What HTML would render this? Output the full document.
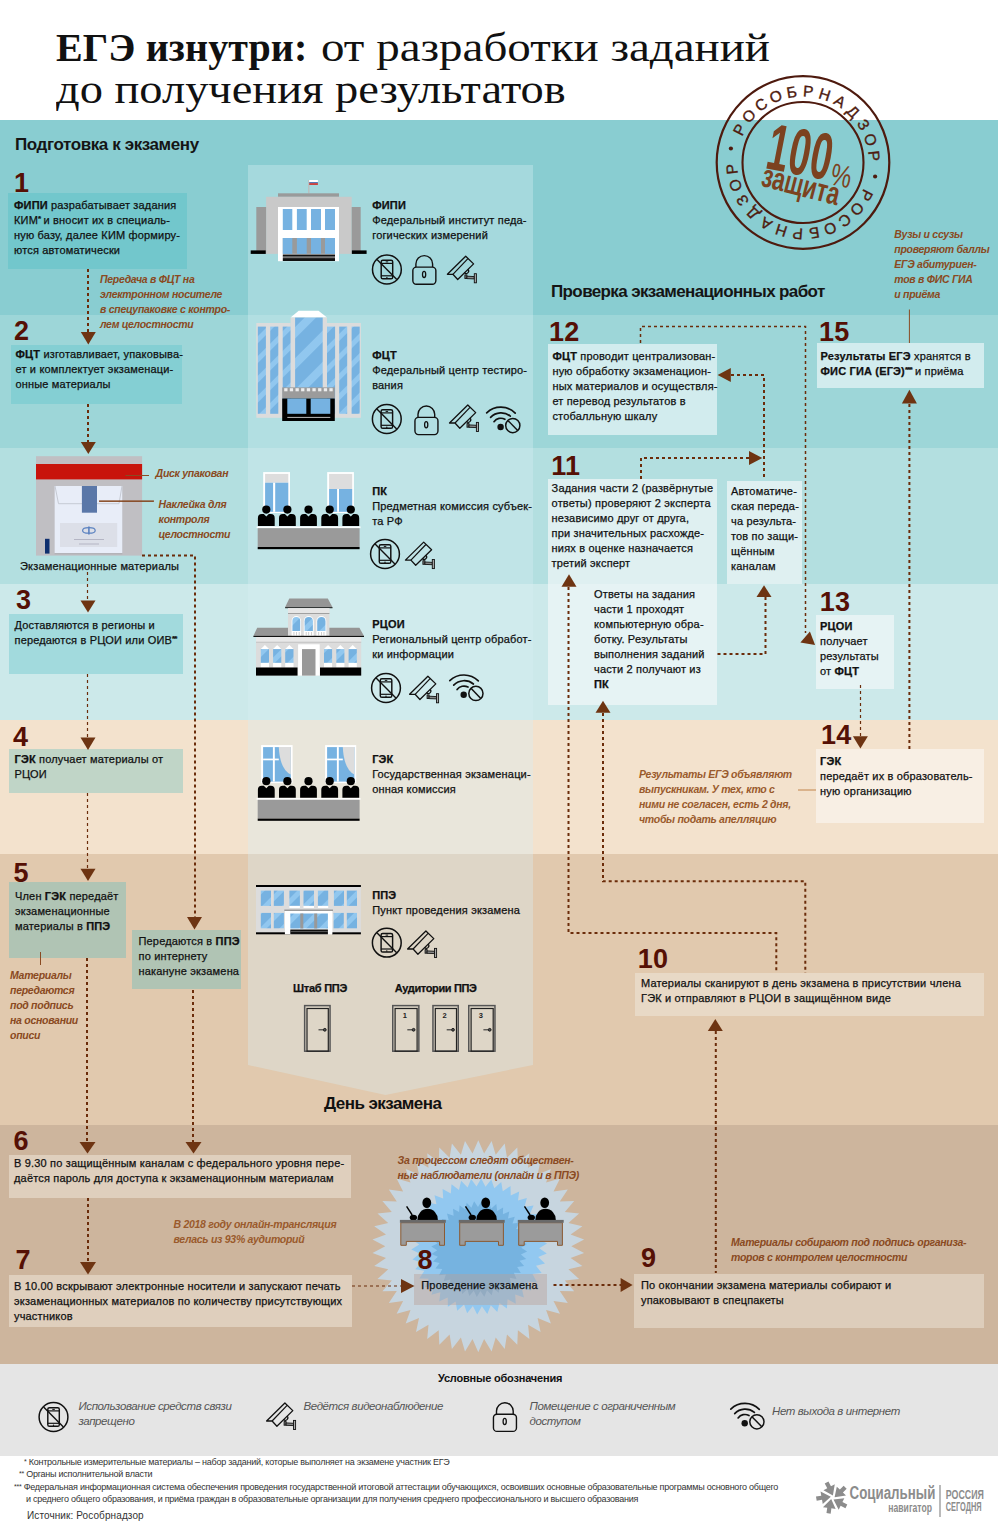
<!DOCTYPE html>
<html><head><meta charset="utf-8">
<style>
*{margin:0;padding:0;box-sizing:border-box}
html,body{width:998px;height:1526px;overflow:hidden;background:#fff}
body{position:relative;font-family:"Liberation Sans",sans-serif;color:#151515}
.a{position:absolute}
.bd{position:absolute;left:0;width:998px}
.t{position:absolute;font-size:11px;line-height:15px;letter-spacing:0.17px;white-space:nowrap;color:#111;-webkit-text-stroke:0.25px #111;margin-top:0.8px}
.t b{font-weight:bold}
.n{position:absolute;font-weight:bold;font-size:27px;line-height:27px;color:#551005;white-space:nowrap;letter-spacing:0.3px;margin-left:-1px;margin-top:-0.5px}
.nt{position:absolute;font-size:10.5px;line-height:15px;font-style:italic;font-weight:bold;letter-spacing:-0.28px;white-space:nowrap;color:#8a4a22}
.nt2{color:#9a5a2c}
.h{position:absolute;font-weight:bold;font-size:17px;line-height:17px;letter-spacing:-0.4px;white-space:nowrap;color:#151515}
.bx{position:absolute}
svg{position:absolute;overflow:visible}
sup{font-size:8px;font-weight:bold;line-height:0;vertical-align:0;position:relative;top:-3.2px;letter-spacing:-0.8px}
</style></head>
<body>
<!-- bands -->
<div class="bd" style="top:120px;height:195px;background:#89cdd1"></div>
<div class="bd" style="top:315px;height:133px;background:#9dd6d8"></div>
<div class="bd" style="top:448px;height:136px;background:#b3dfe0"></div>
<div class="bd" style="top:584px;height:136px;background:#cce9ea"></div>
<div class="bd" style="top:720px;height:134px;background:#f3e2cd"></div>
<div class="bd" style="top:854px;height:271px;background:#e1c9ae"></div>
<div class="bd" style="top:1125px;height:239px;background:#cdb59d"></div>
<div class="bd" style="top:1364px;height:92px;background:#e5e5e5"></div>

<!-- center panel -->
<svg style="left:0;top:0" width="998" height="1526"><polygon points="248,165 533,165 533,1065 385.5,1095 248,1065" fill="rgba(215,238,245,0.36)"/></svg>

<!-- title -->
<div class="a" style="left:56px;top:26.5px;font-family:'Liberation Serif',serif;font-size:40px;line-height:42px;white-space:nowrap;color:#111;font-weight:bold;letter-spacing:0.1px">ЕГЭ изнутри:</div>
<div class="a" style="left:321px;top:26.5px;font-family:'Liberation Serif',serif;font-size:40.5px;line-height:42px;white-space:nowrap;color:#111;transform:scaleX(1.16);transform-origin:0 0">от разработки заданий</div>
<div class="a" style="left:56px;top:68.5px;font-family:'Liberation Serif',serif;font-size:40.5px;line-height:42px;white-space:nowrap;color:#111;transform:scaleX(1.147);transform-origin:0 0">до получения результатов</div>

<div class="h" style="left:15px;top:136px">Подготовка к экзамену</div>
<div class="h" style="left:551px;top:283px;letter-spacing:-0.62px">Проверка экзаменационных работ</div>


<div class="bx" style="left:8px;top:193px;width:179px;height:76px;background:#72c7cc"></div>
<div class="bx" style="left:10.5px;top:345px;width:171.5px;height:59px;background:#84cfd3"></div>
<div class="bx" style="left:9px;top:614px;width:174px;height:60px;background:#a2dadd"></div>
<div class="bx" style="left:9px;top:749px;width:174px;height:44px;background:#c0d5c7"></div>
<div class="bx" style="left:9px;top:882px;width:117px;height:76px;background:#b0c4b4"></div>
<div class="bx" style="left:132px;top:930px;width:109px;height:59px;background:#b0c4b4"></div>
<div class="bx" style="left:9px;top:1155px;width:342px;height:43px;background:#dfcfbd"></div>
<div class="bx" style="left:9px;top:1275px;width:343px;height:52px;background:#dfcfbd"></div>
<div class="bx" style="left:548px;top:344px;width:169px;height:91px;background:#d2ecee"></div>
<div class="bx" style="left:817px;top:343px;width:167px;height:45px;background:#d2ecee"></div>
<div class="bx" style="left:548px;top:479px;width:169px;height:105px;background:#dff0f1"></div>
<div class="bx" style="left:727px;top:481px;width:75px;height:103px;background:#dff0f1"></div>
<div class="bx" style="left:548px;top:584px;width:169px;height:121px;background:#e6f3f4"></div>
<div class="bx" style="left:816px;top:615px;width:78px;height:74px;background:#e6f3f4"></div>
<div class="bx" style="left:816px;top:749px;width:168px;height:74px;background:#f8efe4"></div>
<div class="bx" style="left:635px;top:973px;width:349px;height:43px;background:#e8d9c6"></div>
<div class="bx" style="left:634px;top:1274px;width:350px;height:54px;background:#ddcdbb"></div>
<svg style="left:0;top:0" width="998" height="1526"><rect x="36.0" y="456.2" width="106.1" height="99.4" fill="#c0bfc3"/>
<rect x="36.0" y="464.0" width="106.1" height="15.4" fill="#c8140c"/>
<rect x="54.6" y="487.0" width="67.7" height="67.5" fill="#b3b3b8"/>
<rect x="54.6" y="486.0" width="67.7" height="67.0" fill="#e8edf8"/>
<path d="M55,486 L58.5,503.7 L119,503.7 L122,486" fill="none" stroke="#c6cad4" stroke-width="1"/>
<rect x="81.9" y="486.0" width="15.1" height="26.7" fill="#5a77a8"/>
<rect x="60.0" y="523.0" width="57.2" height="24.0" fill="#dcdfe8"/>
<ellipse cx="88.9" cy="530.4" rx="6.3" ry="2.8" fill="none" stroke="#5b82c0" stroke-width="1.2"/><line x1="88.9" y1="526.5" x2="88.9" y2="534.5" stroke="#5b82c0" stroke-width="1.6"/>
<rect x="74.0" y="539.2" width="30.0" height="0.8" fill="#aab"/>
<rect x="79.0" y="543.6" width="20.0" height="0.8" fill="#aab"/>
<rect x="45.0" y="538.8" width="4.5" height="14.8" fill="#0f2f6e"/>
<line x1="125.6" y1="475.5" x2="149" y2="475.5" stroke="#7a3d16" stroke-width="1"/>
<line x1="99.1" y1="501.3" x2="153.8" y2="501.3" stroke="#7a3d16" stroke-width="1"/>
<polygon points="478.3,1140.2 484.1,1153.4 491.6,1141.0 495.7,1154.8 504.7,1143.5 507.0,1157.8 517.3,1147.6 517.9,1162.1 529.4,1153.3 528.1,1167.7 540.6,1160.4 537.6,1174.5 550.9,1168.9 546.1,1182.5 560.0,1178.6 553.5,1191.5 567.8,1189.4 559.8,1201.4 574.2,1201.1 564.8,1212.0 579.1,1213.4 568.4,1223.1 582.4,1226.3 570.6,1234.5 584.1,1239.5 571.3,1246.2 584.1,1252.9 570.6,1257.9 582.4,1266.1 568.4,1269.3 579.1,1279.0 564.8,1280.4 574.2,1291.3 559.8,1291.0 567.8,1303.0 553.5,1300.9 560.0,1313.8 546.1,1309.9 550.9,1323.5 537.6,1317.9 540.6,1332.0 528.1,1324.7 529.4,1339.1 517.9,1330.3 517.3,1344.8 507.0,1334.6 504.7,1348.9 495.7,1337.6 491.6,1351.4 484.1,1339.0 478.3,1352.2 472.5,1339.0 465.0,1351.4 460.9,1337.6 451.9,1348.9 449.6,1334.6 439.3,1344.8 438.7,1330.3 427.2,1339.1 428.5,1324.7 416.0,1332.0 419.0,1317.9 405.7,1323.5 410.5,1309.9 396.6,1313.8 403.1,1300.9 388.8,1303.0 396.8,1291.0 382.4,1291.3 391.8,1280.4 377.5,1279.0 388.2,1269.3 374.2,1266.1 386.0,1257.9 372.5,1252.9 385.3,1246.2 372.5,1239.5 386.0,1234.5 374.2,1226.3 388.2,1223.1 377.5,1213.4 391.8,1212.0 382.4,1201.1 396.8,1201.4 388.8,1189.4 403.1,1191.5 396.6,1178.6 410.5,1182.5 405.7,1168.9 419.0,1174.5 416.0,1160.4 428.5,1167.7 427.2,1153.3 438.7,1162.1 439.3,1147.6 449.6,1157.8 451.9,1143.5 460.9,1154.8 465.0,1141.0 472.5,1153.4" fill="#c7d5df"/>
<polygon points="481.2,1178.4 485.5,1186.7 491.3,1179.5 494.3,1188.3 501.2,1182.1 502.8,1191.2 510.5,1186.0 510.7,1195.4 519.2,1191.4 518.0,1200.6 526.9,1198.0 524.4,1206.9 533.6,1205.6 529.8,1214.1 539.1,1214.2 534.0,1222.0 543.2,1223.5 537.0,1230.4 545.9,1233.3 538.8,1239.2 547.1,1243.4 539.2,1248.2 546.8,1253.5 538.2,1257.1 545.0,1263.5 536.0,1265.8 541.7,1273.1 532.5,1274.0 537.0,1282.2 527.7,1281.7 531.1,1290.4 521.9,1288.5 523.9,1297.6 515.2,1294.4 515.8,1303.7 507.6,1299.2 506.9,1308.5 499.4,1302.9 497.3,1312.0 490.8,1305.3 487.3,1313.9 481.9,1306.3 477.2,1314.4 472.9,1306.1 467.1,1313.3 464.1,1304.5 457.2,1310.7 455.6,1301.6 447.9,1306.8 447.7,1297.4 439.2,1301.4 440.4,1292.2 431.5,1294.8 434.0,1285.9 424.8,1287.2 428.6,1278.7 419.3,1278.6 424.4,1270.8 415.2,1269.3 421.4,1262.4 412.5,1259.5 419.6,1253.6 411.3,1249.4 419.2,1244.6 411.6,1239.3 420.2,1235.7 413.4,1229.3 422.4,1227.0 416.7,1219.7 425.9,1218.8 421.4,1210.6 430.7,1211.1 427.3,1202.4 436.5,1204.3 434.5,1195.2 443.2,1198.4 442.6,1189.1 450.8,1193.6 451.5,1184.3 459.0,1189.9 461.1,1180.8 467.6,1187.5 471.1,1178.9 476.5,1186.5" fill="#92c8f0"/>
<polygon points="481.6,1201.1 484.6,1207.3 489.1,1202.0 491.0,1208.7 496.3,1204.1 497.2,1211.0 503.1,1207.4 502.9,1214.3 509.3,1211.6 508.0,1218.5 514.8,1216.8 512.5,1223.4 519.4,1222.8 516.1,1228.9 523.0,1229.4 518.8,1234.9 525.5,1236.5 520.5,1241.2 526.9,1243.9 521.2,1247.8 527.1,1251.4 520.9,1254.4 526.2,1258.9 519.5,1260.8 524.1,1266.1 517.2,1267.0 520.8,1272.9 513.9,1272.7 516.6,1279.1 509.7,1277.8 511.4,1284.6 504.8,1282.3 505.4,1289.2 499.3,1285.9 498.8,1292.8 493.3,1288.6 491.7,1295.3 487.0,1290.3 484.3,1296.7 480.4,1291.0 476.8,1296.9 473.8,1290.7 469.3,1296.0 467.4,1289.3 462.1,1293.9 461.2,1287.0 455.3,1290.6 455.5,1283.7 449.1,1286.4 450.4,1279.5 443.6,1281.2 445.9,1274.6 439.0,1275.2 442.3,1269.1 435.4,1268.6 439.6,1263.1 432.9,1261.5 437.9,1256.8 431.5,1254.1 437.2,1250.2 431.3,1246.6 437.5,1243.6 432.2,1239.1 438.9,1237.2 434.3,1231.9 441.2,1231.0 437.6,1225.1 444.5,1225.3 441.8,1218.9 448.7,1220.2 447.0,1213.4 453.6,1215.7 453.0,1208.8 459.1,1212.1 459.6,1205.2 465.1,1209.4 466.7,1202.7 471.4,1207.7 474.1,1201.3 478.0,1207.0" fill="#76b3e0"/>
<g transform="translate(0,0)"><line x1="406.6" y1="1206.3" x2="412.2" y2="1215" stroke="#000" stroke-width="1.4"/><ellipse cx="413.4" cy="1217.6" rx="3.7" ry="2.9" fill="#000"/><path d="M417.4,1220 A10.25,11.2 0 0 1 437.9,1220 Z" fill="#000"/><ellipse cx="426.8" cy="1202.8" rx="4.4" ry="5.3" fill="#000"/><path d="M400.8,1222.7 H444.5 V1245.3 H439.6 V1241.4 H406.3 V1245.3 H400.8 Z" fill="#9b9b9b" stroke="#8b5a33" stroke-width="1"/><rect x="399.9" y="1219.9" width="45.9" height="2.9" fill="#6a6a6a"/></g>
<g transform="translate(58.9,0)"><line x1="406.6" y1="1206.3" x2="412.2" y2="1215" stroke="#000" stroke-width="1.4"/><ellipse cx="413.4" cy="1217.6" rx="3.7" ry="2.9" fill="#000"/><path d="M417.4,1220 A10.25,11.2 0 0 1 437.9,1220 Z" fill="#000"/><ellipse cx="426.8" cy="1202.8" rx="4.4" ry="5.3" fill="#000"/><path d="M400.8,1222.7 H444.5 V1245.3 H439.6 V1241.4 H406.3 V1245.3 H400.8 Z" fill="#9b9b9b" stroke="#8b5a33" stroke-width="1"/><rect x="399.9" y="1219.9" width="45.9" height="2.9" fill="#6a6a6a"/></g>
<g transform="translate(117.9,0)"><line x1="406.6" y1="1206.3" x2="412.2" y2="1215" stroke="#000" stroke-width="1.4"/><ellipse cx="413.4" cy="1217.6" rx="3.7" ry="2.9" fill="#000"/><path d="M417.4,1220 A10.25,11.2 0 0 1 437.9,1220 Z" fill="#000"/><ellipse cx="426.8" cy="1202.8" rx="4.4" ry="5.3" fill="#000"/><path d="M400.8,1222.7 H444.5 V1245.3 H439.6 V1241.4 H406.3 V1245.3 H400.8 Z" fill="#9b9b9b" stroke="#8b5a33" stroke-width="1"/><rect x="399.9" y="1219.9" width="45.9" height="2.9" fill="#6a6a6a"/></g>
<circle cx="803" cy="162.5" r="86.3" fill="none" stroke="#4e1a0e" stroke-width="2.2"/>
<circle cx="803" cy="162.5" r="60.5" fill="none" stroke="#4e1a0e" stroke-width="2.1"/>
<text transform="translate(803,162.5) rotate(-62.70) translate(0,-66)" text-anchor="middle" font-family="Liberation Sans" font-size="15.5" fill="#4e1a0e" stroke="#4e1a0e" stroke-width="0.35">Р</text>
<text transform="translate(803,162.5) rotate(-49.30) translate(0,-66)" text-anchor="middle" font-family="Liberation Sans" font-size="15.5" fill="#4e1a0e" stroke="#4e1a0e" stroke-width="0.35">О</text>
<text transform="translate(803,162.5) rotate(-35.90) translate(0,-66)" text-anchor="middle" font-family="Liberation Sans" font-size="15.5" fill="#4e1a0e" stroke="#4e1a0e" stroke-width="0.35">С</text>
<text transform="translate(803,162.5) rotate(-22.50) translate(0,-66)" text-anchor="middle" font-family="Liberation Sans" font-size="15.5" fill="#4e1a0e" stroke="#4e1a0e" stroke-width="0.35">О</text>
<text transform="translate(803,162.5) rotate(-9.10) translate(0,-66)" text-anchor="middle" font-family="Liberation Sans" font-size="15.5" fill="#4e1a0e" stroke="#4e1a0e" stroke-width="0.35">Б</text>
<text transform="translate(803,162.5) rotate(4.30) translate(0,-66)" text-anchor="middle" font-family="Liberation Sans" font-size="15.5" fill="#4e1a0e" stroke="#4e1a0e" stroke-width="0.35">Р</text>
<text transform="translate(803,162.5) rotate(17.70) translate(0,-66)" text-anchor="middle" font-family="Liberation Sans" font-size="15.5" fill="#4e1a0e" stroke="#4e1a0e" stroke-width="0.35">Н</text>
<text transform="translate(803,162.5) rotate(31.10) translate(0,-66)" text-anchor="middle" font-family="Liberation Sans" font-size="15.5" fill="#4e1a0e" stroke="#4e1a0e" stroke-width="0.35">А</text>
<text transform="translate(803,162.5) rotate(44.50) translate(0,-66)" text-anchor="middle" font-family="Liberation Sans" font-size="15.5" fill="#4e1a0e" stroke="#4e1a0e" stroke-width="0.35">Д</text>
<text transform="translate(803,162.5) rotate(57.90) translate(0,-66)" text-anchor="middle" font-family="Liberation Sans" font-size="15.5" fill="#4e1a0e" stroke="#4e1a0e" stroke-width="0.35">З</text>
<text transform="translate(803,162.5) rotate(71.30) translate(0,-66)" text-anchor="middle" font-family="Liberation Sans" font-size="15.5" fill="#4e1a0e" stroke="#4e1a0e" stroke-width="0.35">О</text>
<text transform="translate(803,162.5) rotate(84.70) translate(0,-66)" text-anchor="middle" font-family="Liberation Sans" font-size="15.5" fill="#4e1a0e" stroke="#4e1a0e" stroke-width="0.35">Р</text>
<text transform="translate(803,162.5) rotate(117.30) translate(0,-66)" text-anchor="middle" font-family="Liberation Sans" font-size="15.5" fill="#4e1a0e" stroke="#4e1a0e" stroke-width="0.35">Р</text>
<text transform="translate(803,162.5) rotate(130.70) translate(0,-66)" text-anchor="middle" font-family="Liberation Sans" font-size="15.5" fill="#4e1a0e" stroke="#4e1a0e" stroke-width="0.35">О</text>
<text transform="translate(803,162.5) rotate(144.10) translate(0,-66)" text-anchor="middle" font-family="Liberation Sans" font-size="15.5" fill="#4e1a0e" stroke="#4e1a0e" stroke-width="0.35">С</text>
<text transform="translate(803,162.5) rotate(157.50) translate(0,-66)" text-anchor="middle" font-family="Liberation Sans" font-size="15.5" fill="#4e1a0e" stroke="#4e1a0e" stroke-width="0.35">О</text>
<text transform="translate(803,162.5) rotate(170.90) translate(0,-66)" text-anchor="middle" font-family="Liberation Sans" font-size="15.5" fill="#4e1a0e" stroke="#4e1a0e" stroke-width="0.35">Б</text>
<text transform="translate(803,162.5) rotate(184.30) translate(0,-66)" text-anchor="middle" font-family="Liberation Sans" font-size="15.5" fill="#4e1a0e" stroke="#4e1a0e" stroke-width="0.35">Р</text>
<text transform="translate(803,162.5) rotate(197.70) translate(0,-66)" text-anchor="middle" font-family="Liberation Sans" font-size="15.5" fill="#4e1a0e" stroke="#4e1a0e" stroke-width="0.35">Н</text>
<text transform="translate(803,162.5) rotate(211.10) translate(0,-66)" text-anchor="middle" font-family="Liberation Sans" font-size="15.5" fill="#4e1a0e" stroke="#4e1a0e" stroke-width="0.35">А</text>
<text transform="translate(803,162.5) rotate(224.50) translate(0,-66)" text-anchor="middle" font-family="Liberation Sans" font-size="15.5" fill="#4e1a0e" stroke="#4e1a0e" stroke-width="0.35">Д</text>
<text transform="translate(803,162.5) rotate(237.90) translate(0,-66)" text-anchor="middle" font-family="Liberation Sans" font-size="15.5" fill="#4e1a0e" stroke="#4e1a0e" stroke-width="0.35">З</text>
<text transform="translate(803,162.5) rotate(251.30) translate(0,-66)" text-anchor="middle" font-family="Liberation Sans" font-size="15.5" fill="#4e1a0e" stroke="#4e1a0e" stroke-width="0.35">О</text>
<text transform="translate(803,162.5) rotate(264.70) translate(0,-66)" text-anchor="middle" font-family="Liberation Sans" font-size="15.5" fill="#4e1a0e" stroke="#4e1a0e" stroke-width="0.35">Р</text>
<circle cx="875.1" cy="176.5" r="2.1" fill="#4e1a0e"/>
<circle cx="730.9" cy="148.5" r="2.1" fill="#4e1a0e"/>
<text transform="translate(764,168) rotate(11) scale(0.58,1)" font-family="Liberation Sans" font-weight="bold" font-size="66" fill="#7c4220" letter-spacing="1">100</text>
<text transform="translate(829,184) rotate(12) scale(0.75,1)" font-family="Liberation Sans" font-size="31" fill="#7c4220">%</text>
<text transform="translate(760,185.6) rotate(14.5) scale(0.7,1)" font-family="Liberation Sans" font-weight="bold" font-size="32" fill="#7c4220">защита</text></svg>
<div class="bx" style="left:414px;top:1274px;width:133px;height:31px;background:rgba(185,160,150,0.42)"></div>
<svg style="left:0;top:0" width="998" height="1526"><defs>
<pattern id="gl" patternUnits="userSpaceOnUse" width="14" height="14" patternTransform="rotate(-45)">
<rect width="14" height="14" fill="#76b2e1"/><rect width="14" height="5" y="0" fill="#91c7ef"/></pattern>
<pattern id="gl2" patternUnits="userSpaceOnUse" width="22" height="22" patternTransform="rotate(-45)">
<rect width="22" height="22" fill="#76b2e1"/><rect width="22" height="8" y="0" fill="#91c7ef"/></pattern>
<g id="ph"><circle cx="0" cy="0" r="14.4" fill="none" stroke="#111" stroke-width="1.5"/>
<rect x="-5.7" y="-9.3" width="11.5" height="18.6" rx="1.6" fill="none" stroke="#111" stroke-width="1.45"/>
<line x1="-5.7" y1="-6.1" x2="5.8" y2="-6.1" stroke="#111" stroke-width="1.2"/>
<line x1="-5.7" y1="6.3" x2="5.8" y2="6.3" stroke="#111" stroke-width="1.2"/>
<line x1="-1.2" y1="-7.6" x2="1.3" y2="-7.6" stroke="#111" stroke-width="1"/>
<circle cx="0" cy="8.3" r="0.7" fill="#111"/>
<line x1="-9.9" y1="-9.9" x2="9.9" y2="10" stroke="#111" stroke-width="1.4"/></g>
<g id="lk"><path d="M8.5,16.2 V13.1 A8.35,8.35 0 0 1 25.2,13.1 V16.2" fill="none" stroke="#111" stroke-width="1.4"/>
<rect x="5.45" y="16.2" width="23" height="17.2" rx="3.5" fill="none" stroke="#111" stroke-width="1.4"/>
<ellipse cx="16.7" cy="23.5" rx="1.6" ry="3.1" fill="none" stroke="#111" stroke-width="1.3"/></g>
<g id="cm"><path d="M4.6,23 L22.9,5 L30.8,12.6 L14.9,28.2 L10.1,23 Z" fill="none" stroke="#111" stroke-width="1.3" stroke-linejoin="round"/>
<line x1="10.1" y1="23" x2="25.1" y2="7.4" stroke="#111" stroke-width="1.2"/>
<path d="M21.6,21.4 A2.3,2.3 0 0 0 25.2,18.2" fill="none" stroke="#111" stroke-width="1.2"/>
<rect x="22.1" y="23.6" width="2" height="3.6" fill="#777" stroke="#111" stroke-width="0.9"/>
<path d="M24.1,24.9 L31.5,25.3 L31.5,27.6 L24.1,27.3 Z" fill="#888" stroke="#111" stroke-width="0.9"/>
<rect x="31.5" y="22.4" width="2.1" height="9.1" fill="#aaa" stroke="#111" stroke-width="0.9"/></g>
<g id="wf"><path d="M4.8,11.1 A20.4,20.4 0 0 1 33.3,11.3" fill="none" stroke="#111" stroke-width="1.7" stroke-linecap="round"/>
<path d="M8.7,15.6 A14.5,14.5 0 0 1 28.4,14.4" fill="none" stroke="#111" stroke-width="1.7" stroke-linecap="round"/>
<path d="M12.1,19.9 A8.6,8.6 0 0 1 23,17.5" fill="none" stroke="#111" stroke-width="1.7" stroke-linecap="round"/>
<circle cx="18.7" cy="25.2" r="3.2" fill="#111"/>
<circle cx="30.9" cy="23.8" r="7.1" fill="none" stroke="#111" stroke-width="1.5"/>
<line x1="26.2" y1="18.9" x2="35.8" y2="28.8" stroke="#111" stroke-width="1.5"/></g>
<g id="ppl"><path d="M257.90000000000003,526.1 V518 Q257.90000000000003,514.1 261.8,514.1 L263.8,514.1 L266.3,516.6 L268.8,514.1 L270.8,514.1 Q274.7,514.1 274.7,518 V526.1 Z" fill="#000"/><circle cx="266.3" cy="509.6" r="4.1" fill="#000"/><path d="M279.0,526.1 V518 Q279.0,514.1 282.9,514.1 L284.9,514.1 L287.4,516.6 L289.9,514.1 L291.9,514.1 Q295.79999999999995,514.1 295.79999999999995,518 V526.1 Z" fill="#000"/><circle cx="287.4" cy="509.6" r="4.1" fill="#000"/><path d="M300.1,526.1 V518 Q300.1,514.1 304.0,514.1 L306.0,514.1 L308.5,516.6 L311.0,514.1 L313.0,514.1 Q316.9,514.1 316.9,518 V526.1 Z" fill="#000"/><circle cx="308.5" cy="509.6" r="4.1" fill="#000"/><path d="M321.3,526.1 V518 Q321.3,514.1 325.2,514.1 L327.2,514.1 L329.7,516.6 L332.2,514.1 L334.2,514.1 Q338.09999999999997,514.1 338.09999999999997,518 V526.1 Z" fill="#000"/><circle cx="329.7" cy="509.6" r="4.1" fill="#000"/><path d="M342.40000000000003,526.1 V518 Q342.40000000000003,514.1 346.3,514.1 L348.3,514.1 L350.8,516.6 L353.3,514.1 L355.3,514.1 Q359.2,514.1 359.2,518 V526.1 Z" fill="#000"/><circle cx="350.8" cy="509.6" r="4.1" fill="#000"/><rect x="256.6" y="526.4" width="103.9" height="1.8" fill="#fff"/><rect x="257.7" y="528.2" width="101.9" height="18.8" fill="#9a9a9a"/><rect x="257.7" y="547" width="101.9" height="2.2" fill="#000"/></g>
</defs>
<line x1="308.8" y1="180" x2="308.8" y2="193.3" stroke="#bdbdbd" stroke-width="1.3"/>
<rect x="309.2" y="180.0" width="8.7" height="2.2" fill="#fff"/>
<rect x="309.2" y="182.2" width="8.7" height="1.0" fill="#3b63b0"/>
<rect x="309.2" y="183.2" width="8.7" height="1.7" fill="#d0312d"/>
<rect x="278.0" y="193.3" width="61.0" height="3.5" fill="#9a9a9a"/>
<rect x="266.1" y="196.8" width="85.6" height="57.1" fill="#c9c9c9"/>
<rect x="256.3" y="207.0" width="9.8" height="46.9" fill="#9a9a9a"/>
<rect x="351.7" y="207.0" width="9.0" height="46.9" fill="#9a9a9a"/>
<rect x="250.7" y="250.4" width="15.0" height="3.5" fill="#000"/>
<rect x="351.9" y="250.4" width="14.7" height="3.5" fill="#000"/>
<rect x="278.0" y="207.0" width="61.0" height="54.2" fill="#fff"/>
<rect x="282.8" y="209.0" width="9.5" height="21.0" fill="#76b2e1"/>
<rect x="296.9" y="209.0" width="9.8" height="21.0" fill="#76b2e1"/>
<rect x="311.0" y="209.0" width="10.0" height="21.0" fill="#76b2e1"/>
<rect x="325.0" y="209.0" width="10.0" height="21.0" fill="#76b2e1"/>
<rect x="282.8" y="238.0" width="52.2" height="15.9" fill="#9a9a9a"/>
<rect x="282.8" y="238.0" width="9.5" height="15.9" fill="#76b2e1"/>
<rect x="296.9" y="238.0" width="9.8" height="15.9" fill="#76b2e1"/>
<rect x="311.0" y="238.0" width="10.0" height="15.9" fill="#76b2e1"/>
<rect x="325.0" y="238.0" width="10.0" height="15.9" fill="#76b2e1"/>
<rect x="282.8" y="254.5" width="52.2" height="2.2" fill="#111"/>
<rect x="282.8" y="256.7" width="52.2" height="1.4" fill="#777"/>
<rect x="282.8" y="258.1" width="52.2" height="2.9" fill="#111"/>
<rect x="256.3" y="323.0" width="34.3" height="94.8" fill="#dcdcdc"/>
<rect x="327.0" y="323.0" width="33.9" height="94.8" fill="#dcdcdc"/>
<rect x="257.8" y="326.6" width="8.1" height="87.2" fill="url(#gl)"/>
<rect x="270.2" y="326.6" width="8.1" height="87.2" fill="url(#gl)"/>
<rect x="282.7" y="326.6" width="8.2" height="87.2" fill="url(#gl)"/>
<rect x="327.0" y="326.6" width="8.1" height="87.2" fill="url(#gl)"/>
<rect x="339.2" y="326.6" width="8.0" height="87.2" fill="url(#gl)"/>
<rect x="351.6" y="326.6" width="8.1" height="87.2" fill="url(#gl)"/>
<polygon points="290.6,317.6 298.7,310.8 318.5,310.8 327,317.6" fill="#fff"/>
<rect x="290.6" y="317.6" width="36.4" height="72.4" fill="#dcdcdc"/>
<rect x="295.1" y="317.6" width="27.6" height="72.4" fill="url(#gl2)"/>
<rect x="282.2" y="387.4" width="52.6" height="11.1" fill="#9b9b9b"/>
<rect x="284.2" y="388.2" width="3.3" height="3.1" fill="#eee"/>
<rect x="289.8" y="388.2" width="3.3" height="3.1" fill="#eee"/>
<rect x="295.5" y="388.2" width="3.3" height="3.1" fill="#eee"/>
<rect x="301.1" y="388.2" width="3.3" height="3.1" fill="#eee"/>
<rect x="306.8" y="388.2" width="3.3" height="3.1" fill="#eee"/>
<rect x="312.4" y="388.2" width="3.3" height="3.1" fill="#eee"/>
<rect x="318.1" y="388.2" width="3.3" height="3.1" fill="#eee"/>
<rect x="323.8" y="388.2" width="3.3" height="3.1" fill="#eee"/>
<rect x="329.4" y="388.2" width="3.3" height="3.1" fill="#eee"/>
<rect x="282.2" y="398.5" width="52.6" height="22.5" fill="#000"/>
<rect x="287.3" y="398.5" width="19.0" height="15.3" fill="#76b2e1"/>
<rect x="310.7" y="398.5" width="19.6" height="15.3" fill="#76b2e1"/>
<rect x="287.3" y="416.9" width="43.0" height="1.0" fill="#bbb"/>
<rect x="263.2" y="472.1" width="26.8" height="40.9" fill="#fff"/>
<rect x="265.1" y="473.9" width="23.2" height="8.8" fill="#dddddd"/>
<rect x="265.1" y="482.7" width="23.2" height="29.1" fill="#76b2e1"/>
<rect x="273.1" y="482.7" width="2.1" height="29.1" fill="#fff"/>
<rect x="327.2" y="472.1" width="26.7" height="40.9" fill="#fff"/>
<rect x="329.1" y="473.9" width="23.1" height="15.1" fill="#dddddd"/>
<rect x="329.1" y="489.0" width="23.1" height="22.8" fill="#76b2e1"/>
<rect x="337.1" y="489.0" width="1.9" height="22.8" fill="#fff"/>
<use href="#ppl"/>
<polygon points="257.2,627.8 359.4,627.8 364,635.9 253.4,635.9" fill="#959595"/>
<polygon points="289.3,598.4 327.8,598.4 332.5,607.2 285.1,607.2" fill="#959595"/>
<rect x="285.1" y="607.2" width="47.4" height="1.0" fill="#111"/>
<rect x="288.0" y="608.2" width="41.4" height="27.4" fill="#dcdcdc"/>
<rect x="288.0" y="608.2" width="41.4" height="4.8" fill="#e6e6e6"/>
<rect x="288.0" y="613.0" width="41.4" height="1.0" fill="#a0a0a0"/>
<path d="M291.6,635.6 V620.8 A4.699999999999989,4.699999999999989 0 0 1 301,620.8 V635.6 Z" fill="#fff"/>
<path d="M292.40000000000003,631 V621.0 A3.899999999999989,3.899999999999989 0 0 1 300.2,621.0 V631 Z" fill="url(#gl)"/>
<rect x="293.6" y="632.0" width="0.7" height="3.6" fill="#bbb"/>
<rect x="296.2" y="632.0" width="0.7" height="3.6" fill="#bbb"/>
<rect x="298.8" y="632.0" width="0.7" height="3.6" fill="#bbb"/>
<path d="M303.8,635.6 V621.05 A4.949999999999989,4.949999999999989 0 0 1 313.7,621.05 V635.6 Z" fill="#fff"/>
<path d="M304.6,631 V621.25 A4.149999999999989,4.149999999999989 0 0 1 312.9,621.25 V631 Z" fill="url(#gl)"/>
<rect x="305.8" y="632.0" width="0.7" height="3.6" fill="#bbb"/>
<rect x="308.4" y="632.0" width="0.7" height="3.6" fill="#bbb"/>
<rect x="311.0" y="632.0" width="0.7" height="3.6" fill="#bbb"/>
<path d="M316.4,635.6 V621.0500000000001 A4.950000000000017,4.950000000000017 0 0 1 326.3,621.0500000000001 V635.6 Z" fill="#fff"/>
<path d="M317.2,631 V621.2500000000001 A4.150000000000017,4.150000000000017 0 0 1 325.5,621.2500000000001 V631 Z" fill="url(#gl)"/>
<rect x="318.4" y="632.0" width="0.7" height="3.6" fill="#bbb"/>
<rect x="321.0" y="632.0" width="0.7" height="3.6" fill="#bbb"/>
<rect x="323.6" y="632.0" width="0.7" height="3.6" fill="#bbb"/>
<rect x="253.4" y="635.9" width="110.6" height="1.1" fill="#111"/>
<rect x="256.0" y="637.0" width="105.2" height="38.6" fill="#dcdcdc"/>
<rect x="256.0" y="637.0" width="105.2" height="4.8" fill="#e8e8e8"/>
<rect x="256.0" y="641.8" width="105.2" height="0.8" fill="#bdbdbd"/>
<polygon points="260.8,649.1 264.9,644.9 269,649.1" fill="#fff"/>
<rect x="260.8" y="649.1" width="8.2" height="13.8" fill="url(#gl)"/>
<rect x="260.8" y="662.9" width="8.2" height="4.6" fill="#fff"/>
<polygon points="273.1,649.1 277.20000000000005,644.9 281.3,649.1" fill="#fff"/>
<rect x="273.1" y="649.1" width="8.2" height="13.8" fill="url(#gl)"/>
<rect x="273.1" y="662.9" width="8.2" height="4.6" fill="#fff"/>
<polygon points="285.2,649.1 289.35,644.9 293.5,649.1" fill="#fff"/>
<rect x="285.2" y="649.1" width="8.3" height="13.8" fill="url(#gl)"/>
<rect x="285.2" y="662.9" width="8.3" height="4.6" fill="#fff"/>
<polygon points="324,649.1 328.05,644.9 332.1,649.1" fill="#fff"/>
<rect x="324.0" y="649.1" width="8.1" height="13.8" fill="url(#gl)"/>
<rect x="324.0" y="662.9" width="8.1" height="4.6" fill="#fff"/>
<polygon points="336.3,649.1 340.35,644.9 344.4,649.1" fill="#fff"/>
<rect x="336.3" y="649.1" width="8.1" height="13.8" fill="url(#gl)"/>
<rect x="336.3" y="662.9" width="8.1" height="4.6" fill="#fff"/>
<polygon points="348.6,649.1 352.70000000000005,644.9 356.8,649.1" fill="#fff"/>
<rect x="348.6" y="649.1" width="8.2" height="13.8" fill="url(#gl)"/>
<rect x="348.6" y="662.9" width="8.2" height="4.6" fill="#fff"/>
<rect x="298.1" y="644.3" width="21.6" height="31.3" fill="#fff"/>
<rect x="302.0" y="649.1" width="13.5" height="26.5" fill="#999"/>
<rect x="256.0" y="667.5" width="41.5" height="8.1" fill="#000"/>
<rect x="320.0" y="667.5" width="41.2" height="8.1" fill="#000"/>
<rect x="261.1" y="745.1" width="31.5" height="38.0" fill="#fff"/>
<rect x="263.1" y="747.1" width="27.7" height="34.5" fill="#76b2e1"/>
<path d="M278.8,747.1 H290.8 V774.6 Q279.8,769.1 278.8,747.1 Z" fill="#dddddd"/>
<rect x="272.9" y="747.1" width="1.9" height="34.5" fill="#fff"/>
<rect x="263.1" y="758.6" width="15.7" height="1.7" fill="#fff"/>
<rect x="325.1" y="745.1" width="31.1" height="38.0" fill="#fff"/>
<rect x="327.1" y="747.1" width="27.3" height="34.5" fill="#76b2e1"/>
<path d="M342.8,747.1 H354.4 V774.6 Q343.8,769.1 342.8,747.1 Z" fill="#dddddd"/>
<rect x="336.9" y="747.1" width="1.9" height="34.5" fill="#fff"/>
<rect x="327.1" y="758.6" width="15.7" height="1.7" fill="#fff"/>
<use href="#ppl" transform="translate(0,271.6)"/>
<rect x="256.0" y="885.0" width="104.9" height="2.0" fill="#000"/>
<rect x="256.0" y="887.0" width="104.9" height="46.1" fill="#dcdcdc"/>
<rect x="256.0" y="932.3" width="34.0" height="2.0" fill="#000"/>
<rect x="332.0" y="932.3" width="28.9" height="2.0" fill="#000"/>
<rect x="260.8" y="890.6" width="10.2" height="15.3" fill="url(#gl)"/>
<rect x="273.8" y="890.6" width="10.1" height="15.3" fill="url(#gl)"/>
<rect x="289.4" y="890.6" width="10.5" height="15.3" fill="url(#gl)"/>
<rect x="303.5" y="890.6" width="10.5" height="15.3" fill="url(#gl)"/>
<rect x="317.9" y="890.6" width="10.3" height="15.3" fill="url(#gl)"/>
<rect x="333.9" y="890.6" width="10.1" height="15.3" fill="url(#gl)"/>
<rect x="346.8" y="890.6" width="10.2" height="15.3" fill="url(#gl)"/>
<rect x="289.4" y="905.9" width="10.5" height="2.1" fill="#fff"/>
<rect x="303.5" y="905.9" width="10.5" height="2.1" fill="#fff"/>
<rect x="317.9" y="905.9" width="10.3" height="2.1" fill="#fff"/>
<rect x="284.3" y="909.5" width="48.7" height="1.5" fill="#9a9a9a"/>
<rect x="284.9" y="911.0" width="47.5" height="23.3" fill="#fff"/>
<rect x="290.3" y="913.5" width="37.6" height="15.0" fill="url(#gl)"/>
<rect x="300.3" y="913.5" width="3.0" height="15.0" fill="#999"/>
<rect x="314.2" y="913.5" width="3.0" height="15.0" fill="#999"/>
<rect x="290.3" y="929.5" width="37.6" height="4.8" fill="#111"/>
<rect x="290.3" y="931.0" width="37.6" height="0.8" fill="#666"/>
<rect x="260.8" y="912.9" width="10.2" height="15.4" fill="url(#gl)"/>
<rect x="273.8" y="912.9" width="10.1" height="15.4" fill="url(#gl)"/>
<rect x="333.6" y="912.9" width="10.2" height="15.4" fill="url(#gl)"/>
<rect x="346.8" y="912.9" width="10.2" height="15.4" fill="url(#gl)"/>
<rect x="304.65" y="1005.6" width="25.400000000000034" height="45.6" fill="none" stroke="#555" stroke-width="1.5"/>
<rect x="307.0" y="1008.5" width="21.300000000000033" height="42.7" fill="none" stroke="#222" stroke-width="1.2"/>
<line x1="318.5" y1="1029.8" x2="323.5" y2="1029.8" stroke="#333" stroke-width="1.1"/><circle cx="324.8" cy="1029.8" r="1.4" fill="#555" stroke="#111" stroke-width="0.9"/>
<rect x="392.75" y="1005.6" width="26.100000000000023" height="45.6" fill="none" stroke="#555" stroke-width="1.5"/>
<rect x="395.1" y="1008.5" width="22.00000000000002" height="42.7" fill="none" stroke="#222" stroke-width="1.2"/>
<line x1="407.3" y1="1029.8" x2="412.3" y2="1029.8" stroke="#333" stroke-width="1.1"/><circle cx="413.6" cy="1029.8" r="1.4" fill="#555" stroke="#111" stroke-width="0.9"/>
<text x="404.8" y="1018" font-family="Liberation Sans" font-weight="bold" font-size="7.5" text-anchor="middle" fill="#222">1</text>
<rect x="432.95" y="1005.6" width="25.30000000000001" height="45.6" fill="none" stroke="#555" stroke-width="1.5"/>
<rect x="435.3" y="1008.5" width="21.20000000000001" height="42.7" fill="none" stroke="#222" stroke-width="1.2"/>
<line x1="446.7" y1="1029.8" x2="451.7" y2="1029.8" stroke="#333" stroke-width="1.1"/><circle cx="453" cy="1029.8" r="1.4" fill="#555" stroke="#111" stroke-width="0.9"/>
<text x="444.6" y="1018" font-family="Liberation Sans" font-weight="bold" font-size="7.5" text-anchor="middle" fill="#222">2</text>
<rect x="468.75" y="1005.6" width="26.19999999999999" height="45.6" fill="none" stroke="#555" stroke-width="1.5"/>
<rect x="471.1" y="1008.5" width="22.099999999999987" height="42.7" fill="none" stroke="#222" stroke-width="1.2"/>
<line x1="483.4" y1="1029.8" x2="488.4" y2="1029.8" stroke="#333" stroke-width="1.1"/><circle cx="489.7" cy="1029.8" r="1.4" fill="#555" stroke="#111" stroke-width="0.9"/>
<text x="480.85" y="1018" font-family="Liberation Sans" font-weight="bold" font-size="7.5" text-anchor="middle" fill="#222">3</text>
<use href="#ph" transform="translate(386.9,269.5)"/>
<use href="#lk" transform="translate(407.4,250.9)"/>
<use href="#cm" transform="translate(442.8,251.3)"/>
<use href="#ph" transform="translate(386.8,419)"/>
<use href="#lk" transform="translate(409.5,401.2)"/>
<use href="#cm" transform="translate(444.9,400)"/>
<use href="#wf" transform="translate(481.9,401.75)"/>
<use href="#ph" transform="translate(385,554)"/>
<use href="#cm" transform="translate(400.8,537.1)"/>
<use href="#ph" transform="translate(386,688)"/>
<use href="#cm" transform="translate(405,671.3)"/>
<use href="#wf" transform="translate(445,669.6)"/>
<use href="#ph" transform="translate(386.8,942.7)"/>
<use href="#cm" transform="translate(403,926)"/>
<use href="#ph" transform="translate(53.5,1417)"/>
<use href="#cm" transform="translate(262,1398)"/>
<use href="#lk" transform="translate(488,1398)"/>
<use href="#wf" transform="translate(726,1398)"/></svg>
<svg style="left:0;top:0" width="998" height="1526"><path d="M88,269 L88,333" fill="none" stroke="#6b2c0a" stroke-width="2" stroke-dasharray="3 3"/>
<polygon points="80.8,332 95.8,332 88.3,344.6" fill="#6e3412"/>
<path d="M88,404 L88,443" fill="none" stroke="#6b2c0a" stroke-width="2" stroke-dasharray="3 3"/>
<polygon points="80.8,442 95.8,442 88.3,454" fill="#6e3412"/>
<path d="M87.5,572 L87.5,601" fill="none" stroke="#6b2c0a" stroke-width="1.2" stroke-dasharray="3 3"/>
<polygon points="80.5,600.5 95.5,600.5 88,612.5" fill="#6e3412"/>
<path d="M87.5,674 L87.5,738" fill="none" stroke="#6b2c0a" stroke-width="1.2" stroke-dasharray="3 3"/>
<polygon points="80.5,737.5 95.5,737.5 88,750" fill="#6e3412"/>
<path d="M87.5,793 L87.5,869" fill="none" stroke="#6b2c0a" stroke-width="1.2" stroke-dasharray="3 3"/>
<polygon points="80.5,868.75 95.5,868.75 88,881" fill="#6e3412"/>
<path d="M142,555.5 L195,555.5 L195,918" fill="none" stroke="#6b2c0a" stroke-width="2" stroke-dasharray="3 3"/>
<polygon points="187.0,917 202.0,917 194.5,929.5" fill="#6e3412"/>
<path d="M87,958 L87,1143" fill="none" stroke="#6b2c0a" stroke-width="2" stroke-dasharray="3 3"/>
<polygon points="79.5,1142 95.5,1142 87.5,1153.6" fill="#6e3412"/>
<path d="M193,990 L193,1143" fill="none" stroke="#6b2c0a" stroke-width="2" stroke-dasharray="3 3"/>
<polygon points="185.5,1142 201.5,1142 193.5,1153.6" fill="#6e3412"/>
<path d="M88,1198 L88,1263" fill="none" stroke="#6b2c0a" stroke-width="2" stroke-dasharray="3 3"/>
<polygon points="80,1262 96,1262 88,1274.5" fill="#6e3412"/>
<path d="M352,1286 L401,1286" fill="none" stroke="#6b2c0a" stroke-width="1.2" stroke-dasharray="3 3"/>
<polygon points="401,1279 401,1293 414.5,1286" fill="#6e3412"/>
<path d="M553.5,1285 L621,1285" fill="none" stroke="#6b2c0a" stroke-width="2" stroke-dasharray="3 3"/>
<polygon points="620.6,1278 620.6,1292 632.6,1285" fill="#6e3412"/>
<path d="M640.5,343 L640.5,326.5 L805.5,326.5 L805.5,633" fill="none" stroke="#6b2c0a" stroke-width="1.5" stroke-dasharray="3 3"/>
<polygon points="730.8,368 730.8,382 717.6,375" fill="#6e3412"/>
<path d="M731,375 L764,375 L764,479" fill="none" stroke="#6b2c0a" stroke-width="2" stroke-dasharray="3 3"/>
<path d="M641,479 L641,458 L749,458" fill="none" stroke="#6b2c0a" stroke-width="2" stroke-dasharray="3 3"/>
<polygon points="749,451 749,465 762.3,458" fill="#6e3412"/>
<polygon points="756.5,597 771.5,597 764,585.3" fill="#6e3412"/>
<path d="M765.5,597 L765.5,654 L717,654" fill="none" stroke="#6b2c0a" stroke-width="2" stroke-dasharray="3 3"/>
<polygon points="800.4,642.5 809.9,631.4 815.1,644.9" fill="#6e3412"/>
<path d="M860.5,685 L860.5,737" fill="none" stroke="#6b2c0a" stroke-width="1.2" stroke-dasharray="3 3"/>
<polygon points="852.9,736.3 867.9,736.3 860.4,748.6" fill="#6e3412"/>
<polygon points="901.9,403.6 916.9,403.6 909.4,389.8" fill="#6e3412"/>
<path d="M909.4,404 L909.4,749" fill="none" stroke="#6b2c0a" stroke-width="2" stroke-dasharray="3 3"/>
<line x1="909.4" y1="309.5" x2="909.4" y2="343" stroke="#8a4a22" stroke-width="1"/>
<polygon points="561.5,586.8 576.5,586.8 569,574.3" fill="#6e3412"/>
<path d="M568.5,587 L568.5,933 L776.3,933 L776.3,973" fill="none" stroke="#6b2c0a" stroke-width="2" stroke-dasharray="3 3"/>
<polygon points="595.5,712.8 610.5,712.8 603,700.8" fill="#6e3412"/>
<path d="M603,713 L603,881.3 L805.3,881.3 L805.3,973" fill="none" stroke="#6b2c0a" stroke-width="2" stroke-dasharray="3 3"/>
<polygon points="707.8,1031 722.8,1031 715.3,1019" fill="#6e3412"/>
<path d="M715.8,1031 L715.8,1273" fill="none" stroke="#6b2c0a" stroke-width="2" stroke-dasharray="3 3"/>
<line x1="125.4" y1="475.5" x2="149" y2="475.5" stroke="#8a4a22" stroke-width="1"/>
<line x1="99" y1="501" x2="154" y2="501" stroke="#8a4a22" stroke-width="1"/>
<line x1="40.5" y1="952" x2="40.5" y2="965" stroke="#8a4a22" stroke-width="1"/>
<line x1="798" y1="790" x2="816" y2="790" stroke="#d4a87c" stroke-width="1.6"/></svg>
<div class="n" style="left:15px;top:170.5px">1</div>
<div class="n" style="left:15px;top:318.1px">2</div>
<div class="n" style="left:17px;top:587.5px">3</div>
<div class="n" style="left:14px;top:724.5px">4</div>
<div class="n" style="left:14.5px;top:860.5px">5</div>
<div class="n" style="left:14.4px;top:1128.5px">6</div>
<div class="n" style="left:16.6px;top:1247.5px">7</div>
<div class="n" style="left:418.6px;top:1247.5px">8</div>
<div class="n" style="left:642px;top:1245.1px">9</div>
<div class="n" style="left:638.7px;top:946.5px">10</div>
<div class="n" style="left:552.2px;top:453.5px">11</div>
<div class="n" style="left:550px;top:319.5px">12</div>
<div class="n" style="left:820.7px;top:589.1px">13</div>
<div class="n" style="left:822px;top:722.5px">14</div>
<div class="n" style="left:820px;top:319.5px">15</div>
<div class="t" style="left:14px;top:197.5px"><b>ФИПИ</b> разрабатывает задания<br>КИМ<sup>*</sup> и вносит их в специаль-<br>ную базу, далее КИМ формиру-<br>ются автоматически</div>
<div class="nt" style="left:100px;top:271.5px">Передача в ФЦТ на<br>электронном носителе<br>в спецупаковке с контро-<br>лем целостности</div>
<div class="t" style="left:15.5px;top:346.1px"><b>ФЦТ</b> изготавливает, упаковыва-<br>ет и комплектует экзаменаци-<br>онные материалы</div>
<div class="nt" style="left:155.6px;top:466.1px">Диск упакован</div>
<div class="nt" style="left:158.6px;top:496.9px">Наклейка для<br>контроля<br>целостности</div>
<div class="t" style="left:20px;top:558.2px">Экзаменационные материалы</div>
<div class="t" style="left:14.5px;top:617.2px">Доставляются в регионы и<br>передаются в РЦОИ или ОИВ<sup>**</sup></div>
<div class="t" style="left:14.5px;top:751.0px"><b>ГЭК</b> получает материалы от<br>РЦОИ</div>
<div class="t" style="left:15px;top:888.5px">Член <b>ГЭК</b> передаёт<br>экзаменационные<br>материалы в <b>ППЭ</b></div>
<div class="nt" style="left:10px;top:967.5px">Материалы<br>передаются<br>под подпись<br>на основании<br>описи</div>
<div class="t" style="left:138.5px;top:933.5px">Передаются в <b>ППЭ</b><br>по интернету<br>накануне экзамена</div>
<div class="t" style="left:14px;top:1155.1px">В 9.30 по защищённым каналам с федерального уровня пере-<br>даётся пароль для доступа к экзаменационным материалам</div>
<div class="nt nt2" style="left:173.5px;top:1216.8px">В 2018 году онлайн-трансляция<br>велась из 93% аудиторий</div>
<div class="t" style="left:14px;top:1278.1px">В 10.00 вскрывают электронные носители и запускают печать<br>экзаменационных материалов по количеству присутствующих<br>участников</div>
<div class="t" style="left:372.2px;top:197.1px"><b>ФИПИ</b><br>Федеральный институт педа-<br>гогических измерений</div>
<div class="t" style="left:372.2px;top:347.3px"><b>ФЦТ</b><br>Федеральный центр тестиро-<br>вания</div>
<div class="t" style="left:372.2px;top:483.5px"><b>ПК</b><br>Предметная комиссия субъек-<br>та РФ</div>
<div class="t" style="left:372.2px;top:616.2px"><b>РЦОИ</b><br>Региональный центр обработ-<br>ки информации</div>
<div class="t" style="left:372.2px;top:751.2px"><b>ГЭК</b><br>Государственная экзаменаци-<br>онная комиссия</div>
<div class="t" style="left:372.2px;top:887.5px"><b>ППЭ</b><br>Пункт проведения экзамена</div>
<div class="t" style="left:293px;top:980.0px;letter-spacing:-0.25px"><b>Штаб ППЭ</b></div>
<div class="t" style="left:394.7px;top:980.0px;letter-spacing:-0.35px"><b>Аудитории ППЭ</b></div>
<div class="t" style="left:552.4px;top:348.5px"><b>ФЦТ</b> проводит централизован-<br>ную обработку экзаменацион-<br>ных материалов и осуществля-<br>ет перевод результатов в<br>стобалльную шкалу</div>
<div class="t" style="left:820.5px;top:348.5px"><b>Результаты ЕГЭ</b> хранятся в<br><b>ФИС ГИА (ЕГЭ)<sup>***</sup></b> и приёма</div>
<div class="nt" style="left:894.3px;top:226.9px">Вузы и ссузы<br>проверяют баллы<br>ЕГЭ абитуриен-<br>тов в ФИС ГИА<br>и приёма</div>
<div class="t" style="left:551.6px;top:480.2px">Задания части 2 (развёрнутые<br>ответы) проверяют 2 эксперта<br>независимо друг от друга,<br>при значительных расхожде-<br>ниях в оценке назначается<br>третий эксперт</div>
<div class="t" style="left:731px;top:483.7px">Автоматиче-<br>ская переда-<br>ча результа-<br>тов по защи-<br>щённым<br>каналам</div>
<div class="t" style="left:594px;top:586.5px">Ответы на задания<br>части 1 проходят<br>компьютерную обра-<br>ботку. Результаты<br>выполнения заданий<br>части 2 получают из<br><b>ПК</b></div>
<div class="t" style="left:820px;top:617.9px"><b>РЦОИ</b><br>получает<br>результаты<br>от <b>ФЦТ</b></div>
<div class="t" style="left:820px;top:753.1px"><b>ГЭК</b><br>передаёт их в образователь-<br>ную организацию</div>
<div class="nt nt2" style="left:639px;top:767.1px">Результаты ЕГЭ объявляют<br>выпускникам. У тех, кто с<br>ними не согласен, есть 2 дня,<br>чтобы подать апелляцию</div>
<div class="t" style="left:641px;top:975.3px">Материалы сканируют в день экзамена в присутствии члена<br>ГЭК и отправляют в РЦОИ в защищённом виде</div>
<div class="t" style="left:641px;top:1276.8px">По окончании экзамена материалы собирают и<br>упаковывают в спецпакеты</div>
<div class="nt" style="left:731px;top:1235.2px">Материалы собирают под подпись организа-<br>торов с контролем целостности</div>
<div class="t" style="left:421.3px;top:1277.5px">Проведение экзамена</div>
<div class="nt" style="left:397.5px;top:1152.5px">За процессом следят обществен-<br>ные наблюдатели (онлайн и в ППЭ)</div>
<svg style="left:0;top:0" width="998" height="1526"><polygon transform="translate(832.6,1497.6) rotate(8)" points="-1.2,1.6 -8.2,10.8 -3.9,10.8 -3.9,16.2 0.3,16.2 0.3,10.8 4.6,10.8" fill="#8c8c8c"/>
<polygon transform="translate(832.6,1497.6) rotate(80)" points="-1.2,1.6 -8.2,10.8 -3.9,10.8 -3.9,16.2 0.3,16.2 0.3,10.8 4.6,10.8" fill="#8c8c8c"/>
<polygon transform="translate(832.6,1497.6) rotate(152)" points="-1.2,1.6 -8.2,10.8 -3.9,10.8 -3.9,16.2 0.3,16.2 0.3,10.8 4.6,10.8" fill="#8c8c8c"/>
<polygon transform="translate(832.6,1497.6) rotate(224)" points="-1.2,1.6 -8.2,10.8 -3.9,10.8 -3.9,16.2 0.3,16.2 0.3,10.8 4.6,10.8" fill="#8c8c8c"/>
<polygon transform="translate(832.6,1497.6) rotate(296)" points="-1.2,1.6 -8.2,10.8 -3.9,10.8 -3.9,16.2 0.3,16.2 0.3,10.8 4.6,10.8" fill="#8c8c8c"/>
<circle cx="832.6" cy="1497.6" r="1.7" fill="#fff"/>
<text transform="translate(849.6,1499.4) scale(0.72,1)" font-family="Liberation Sans" font-weight="bold" font-size="18.5" fill="#8c8c8c">Социальный</text>
<text transform="translate(888.3,1511.7) scale(0.72,1)" font-family="Liberation Sans" font-weight="bold" font-size="12" fill="#8c8c8c">навигатор</text>
<line x1="940" y1="1485" x2="940" y2="1517" stroke="#8c8c8c" stroke-width="1.2"/>
<text transform="translate(945.8,1498.8) scale(0.72,1)" font-family="Liberation Sans" font-weight="bold" font-size="12.3" fill="#8c8c8c">РОССИЯ</text>
<text transform="translate(945.8,1511.3) scale(0.6,1)" font-family="Liberation Sans" font-weight="bold" font-size="12.3" fill="#8c8c8c">СЕГОДНЯ</text></svg>
<div class="a" style="left:324px;top:1094px;font-weight:bold;font-size:17px;line-height:20px;letter-spacing:-0.55px;white-space:nowrap;color:#111">День экзамена</div>
<div class="a" style="left:438px;top:1372px;font-weight:bold;font-size:11px;line-height:13px;letter-spacing:-0.2px;white-space:nowrap;color:#111">Условные обозначения</div>
<div style="position:absolute;font-style:italic;font-size:11.5px;line-height:15px;letter-spacing:-0.4px;white-space:nowrap;color:#555;left:78.5px;top:1398.5px">Использование средств связи<br>запрещено</div>
<div style="position:absolute;font-style:italic;font-size:11.5px;line-height:15px;letter-spacing:-0.4px;white-space:nowrap;color:#555;left:303.5px;top:1398.5px">Ведётся видеонаблюдение</div>
<div style="position:absolute;font-style:italic;font-size:11.5px;line-height:15px;letter-spacing:-0.4px;white-space:nowrap;color:#555;left:529.5px;top:1398.5px">Помещение с ограниченным<br>доступом</div>
<div style="position:absolute;font-style:italic;font-size:11.5px;line-height:15px;letter-spacing:-0.4px;white-space:nowrap;color:#555;left:772px;top:1403.8px">Нет выхода в интернет</div>
<div style="position:absolute;font-size:9px;line-height:12px;letter-spacing:-0.25px;white-space:nowrap;color:#333;left:24px;top:1456px"><span style="font-size:7px;position:relative;top:-1px">*</span> Контрольные измерительные материалы – набор заданий, которые выполняет на экзамене участник ЕГЭ</div>
<div style="position:absolute;font-size:9px;line-height:12px;letter-spacing:-0.25px;white-space:nowrap;color:#333;left:19px;top:1468px"><span style="font-size:7px;position:relative;top:-1px">**</span> Органы исполнительной власти</div>
<div style="position:absolute;font-size:9px;line-height:12px;letter-spacing:-0.25px;white-space:nowrap;color:#333;left:14px;top:1481px"><span style="font-size:7px;position:relative;top:-1px">***</span> Федеральная информационная система обеспечения проведения государственной итоговой аттестации обучающихся, освоивших основные образовательные программы основного общего</div>
<div style="position:absolute;font-size:9px;line-height:12px;letter-spacing:-0.25px;white-space:nowrap;color:#333;left:26px;top:1492.5px">и среднего общего образования, и приёма граждан в образовательные организации для получения среднего профессионального и высшего образования</div>
<div class="a" style="left:27px;top:1510px;font-size:10px;line-height:12px;letter-spacing:0.1px;white-space:nowrap;color:#333">Источник: Рособрнадзор</div>
</body></html>
